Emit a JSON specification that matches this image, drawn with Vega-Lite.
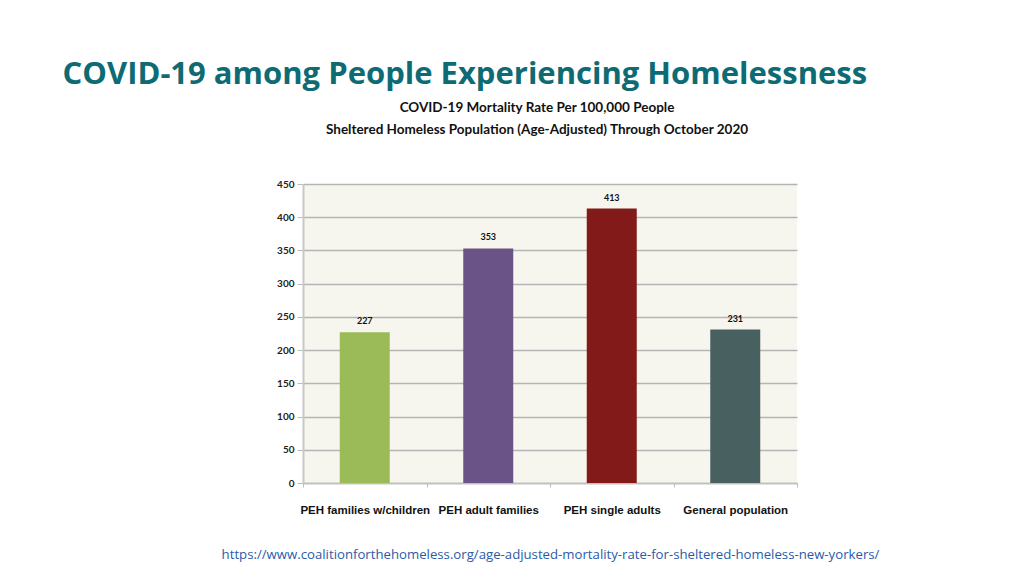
{
  "$schema": "https://vega.github.io/schema/vega-lite/v6.json",
  "background": "white",
  "padding": {"left": 62, "top": 58, "right": 10, "bottom": 5},
  "title": {
    "text": "COVID-19 among People Experiencing Homelessness",
    "anchor": "start",
    "font": "Open Sans",
    "fontSize": 31,
    "fontWeight": "bold",
    "color": "#0E6B73",
    "dx": -158.5,
    "offset": 10
  },
  "config": {
    "view": {"stroke": null, "fill": "#F7F6EE"},
    "concat": {"spacing": 0}
  },
  "vconcat": [
    {
      "width": 494,
      "height": 299,
      "title": {
        "text": [
          "COVID-19 Mortality Rate Per 100,000 People",
          "Sheltered Homeless Population (Age-Adjusted) Through October 2020"
        ],
        "font": "Lato",
        "fontSize": 13.5,
        "fontWeight": "bold",
        "color": "#111111",
        "lineHeight": 22,
        "offset": 43,
        "anchor": "middle",
        "dx": -13
      },
      "data": {
        "values": [
          {"group": "PEH families w/children", "rate": 227},
          {"group": "PEH adult families", "rate": 353},
          {"group": "PEH single adults", "rate": 413},
          {"group": "General population", "rate": 231}
        ]
      },
      "encoding": {
        "x": {
          "field": "group",
          "type": "nominal",
          "sort": null,
          "scale": {"paddingInner": 0, "paddingOuter": 0},
          "axis": {
            "title": "https://www.coalitionforthehomeless.org/age-adjusted-mortality-rate-for-sheltered-homeless-new-yorkers/",
            "titleColor": "#2A5CA8",
            "titleFont": "Open Sans",
            "titleFontSize": 13.2,
            "titleFontWeight": "normal",
            "titlePadding": 33,
            "labelAngle": 0,
            "labelFont": "Liberation Sans",
            "labelFontWeight": "bold",
            "labelFontSize": 11.5,
            "labelColor": "#111111",
            "labelPadding": 17,
            "domainColor": "#c0c0c0",
            "domainWidth": 1.5,
            "tickBand": "extent",
            "tickSize": 4,
            "tickColor": "#bbbbbb",
            "grid": false
          }
        },
        "y": {
          "field": "rate",
          "type": "quantitative",
          "scale": {"domain": [0, 450]},
          "axis": {
            "title": null,
            "values": [0, 50, 100, 150, 200, 250, 300, 350, 400, 450],
            "labelFont": "Lato",
            "labelFontWeight": "bold",
            "labelFontSize": 10,
            "labelColor": "#222222",
            "labelPadding": 3,
            "gridColor": "#b5b5b5",
            "gridWidth": 1.5,
            "domainColor": "#c8c8c8",
            "domainWidth": 2,
            "tickColor": "#bbbbbb",
            "tickSize": 6
          }
        }
      },
      "layer": [
        {
          "mark": {"type": "bar", "size": 50},
          "encoding": {
            "color": {
              "field": "group",
              "type": "nominal",
              "scale": {
                "domain": ["PEH families w/children", "PEH adult families", "PEH single adults", "General population"],
                "range": ["#9BBB59", "#6A5487", "#821A1A", "#48605F"]
              },
              "legend": null
            }
          }
        },
        {
          "mark": {"type": "text", "baseline": "bottom", "dy": -6, "font": "Lato", "fontWeight": "bold", "fontSize": 9, "color": "#111111"},
          "encoding": {"text": {"field": "rate", "type": "quantitative"}}
        }
      ]
    }
  ]
}
